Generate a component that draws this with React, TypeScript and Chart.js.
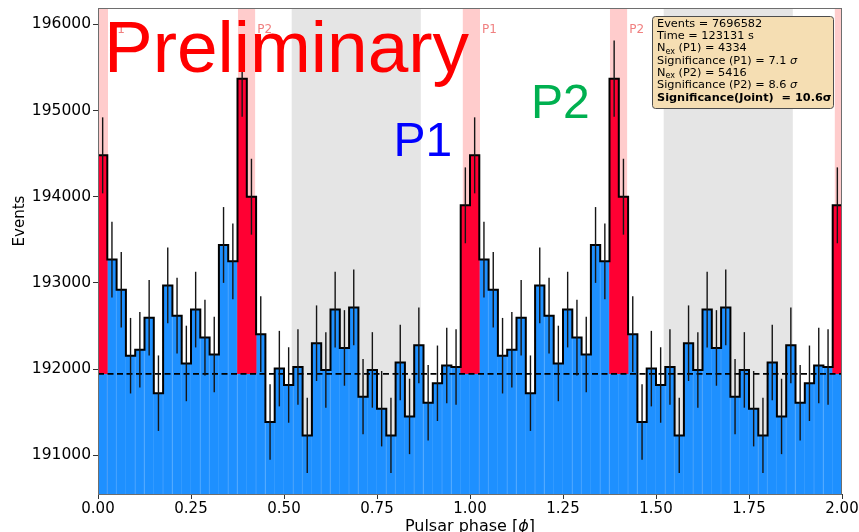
import React, { useEffect, useRef } from "react";
import { Chart, registerables } from "chart.js";

Chart.register(...registerables);

// ---------------- data ----------------
const BIN_WIDTH = 0.025;
// counts per phase bin for one rotation (phase 0 .. 1), shown twice (0 .. 2)
const countsOnePeriod = [
  194480, 193270, 192920, 192155, 192225, 192595, 191720, 192970, 192620, 192065,
  192690, 192365, 192170, 193440, 193250, 195370, 194000, 192405, 191385, 192005,
  191815, 192025, 191230, 192300, 191990, 192690, 192245, 192715, 191680, 191990,
  191540, 191230, 192075, 191450, 192275, 191610, 191835, 192040, 192025, 193900,
];
const counts = [...countsOnePeriod, ...countsOnePeriod];
// bins that belong to the on-pulse windows (P1, P2), one period
const onPulseBinsOnePeriod = [0, 15, 16, 39];
const onPulseBins = [
  ...onPulseBinsOnePeriod,
  ...onPulseBinsOnePeriod.map((b) => b + countsOnePeriod.length),
];
const backgroundLevel = 191945;

const p1Windows = [
  [-0.02, 0.027],
  [0.98, 1.027],
  [1.98, 2.027],
];
const p2Windows = [
  [0.376, 0.423],
  [1.376, 1.423],
];
const offPulseWindows = [
  [0.52, 0.868],
  [1.52, 1.868],
];

const xTickValues = [0, 0.25, 0.5, 0.75, 1.0, 1.25, 1.5, 1.75, 2.0];
const yTickValues = [191000, 192000, 193000, 194000, 195000, 196000];
const Y_MIN = 190550;
const Y_MAX = 196190;
const X_MIN = 0;
const X_MAX = 2;

const xTitle = ["Pulsar phase [", "ϕ", "]"];
const yTitle = "Events";
const statsLines: { t: string; sub?: boolean; it?: boolean; bold?: boolean }[][] = [
  [{ t: "Events = 7696582" }],
  [{ t: "Time = 123131 s" }],
  [{ t: "N" }, { t: "ex", sub: true }, { t: " (P1) = 4334" }],
  [{ t: "Significance (P1) = 7.1 " }, { t: "σ", it: true }],
  [{ t: "N" }, { t: "ex", sub: true }, { t: " (P2) = 5416" }],
  [{ t: "Significance (P2) = 8.6 " }, { t: "σ", it: true }],
  [{ t: "Significance(Joint)  = 10.6σ", bold: true }],
];

// ---------------- derived for drawing ----------------
const binCenter = (i: number) => (i + 0.5) * BIN_WIDTH;
const binLeft = (i: number) => i * BIN_WIDTH;
const errors = counts.map((c) => Math.sqrt(c));

const DV = '"DejaVu Sans"';

function spanDataset(win: number[], color: string) {
  const a = Math.max(win[0], X_MIN);
  const b = Math.min(win[1], X_MAX);
  return {
    type: "line" as const,
    data: [
      { x: a, y: Y_MAX },
      { x: b, y: Y_MAX },
    ],
    fill: "start",
    backgroundColor: color,
    borderColor: "rgba(0,0,0,0)",
    borderWidth: 0,
    pointRadius: 0,
    order: 20,
  };
}

const textPlugin = {
  id: "phaseTexts",
  afterDatasetsDraw(chart: any) {
    const { ctx, chartArea, scales } = chart;
    const { left, top, right, bottom } = chartArea;
    const xs = scales.x;
    ctx.save();

    // spines
    ctx.strokeStyle = "#6e6e6e";
    ctx.lineWidth = 1;
    ctx.strokeRect(left + 0.5, top + 0.5, right - left - 1, bottom - top);

    // small window labels
    ctx.font = `12px ${DV}`;
    ctx.fillStyle = "#f08080";
    ctx.textBaseline = "alphabetic";
    ctx.textAlign = "left";
    const lbl = (wins: number[][], name: string) => {
      wins.forEach((w) => {
        const px = xs.getPixelForValue(w[1]) + 2;
        if (px < right - 5) ctx.fillText(name, px, top + 25);
      });
    };
    lbl(p1Windows, "P1");
    lbl(p2Windows, "P2");

    // big texts
    ctx.font = `73px "Liberation Sans"`;
    ctx.fillStyle = "#ff0000";
    ctx.fillText("Preliminary", left + 6, top + 64);
    ctx.font = `48px "Liberation Sans"`;
    ctx.fillStyle = "#0000ff";
    ctx.fillText("P1", left + 295.5, top + 148);
    ctx.fillStyle = "#00b050";
    ctx.fillText("P2", left + 433, top + 110);

    // stats box
    const bx = 652.5, by = 16.5, bw = 181, bh = 92;
    ctx.beginPath();
    (ctx as any).roundRect(bx, by, bw, bh, 3);
    ctx.fillStyle = "#f5deb3";
    ctx.fill();
    ctx.strokeStyle = "#4d4d4d";
    ctx.lineWidth = 1;
    ctx.stroke();
    ctx.fillStyle = "#000";
    statsLines.forEach((segs, li) => {
      let cx = 657;
      const baseY = 26.7 + li * 12.3;
      segs.forEach((s) => {
        let font = `11.3px ${DV}`;
        let yy = baseY;
        if (s.sub) {
          font = `8px ${DV}`;
          yy = baseY + 2.5;
        }
        if (s.it) font = `oblique 11.3px ${DV}`;
        if (s.bold) font = `bold 11.3px ${DV}`;
        ctx.font = font;
        ctx.fillText(s.t, cx, yy);
        cx += ctx.measureText(s.t).width;
      });
    });

    // axis titles
    ctx.fillStyle = "#000";
    ctx.font = `15px ${DV}`;
    ctx.save();
    ctx.translate(24, 221);
    ctx.rotate(-Math.PI / 2);
    ctx.textAlign = "center";
    ctx.fillText(yTitle, 0, 0);
    ctx.restore();

    ctx.textAlign = "left";
    const fonts = [`16px ${DV}`, `oblique 16px ${DV}`, `16px ${DV}`];
    let total = 0;
    xTitle.forEach((t, i) => {
      ctx.font = fonts[i];
      total += ctx.measureText(t).width;
    });
    let tx = (left + right) / 2 - total / 2;
    xTitle.forEach((t, i) => {
      ctx.font = fonts[i];
      ctx.fillText(t, tx, 530.7);
      tx += ctx.measureText(t).width;
    });

    ctx.restore();
  },
};

export default function App() {
  const ref = useRef<HTMLCanvasElement | null>(null);

  useEffect(() => {
    document.body.style.margin = "0";
    if (!ref.current) return;

    const blueBars = counts.map((c, i) => ({
      x: binCenter(i),
      y: [Y_MIN, onPulseBins.includes(i) ? Math.min(c, backgroundLevel) : c],
    }));
    const redBars = onPulseBins.map((i) => ({
      x: binCenter(i),
      y: [backgroundLevel, counts[i]],
    }));
    const stepPts: { x: number; y: number }[] = [];
    counts.forEach((c, i) => {
      stepPts.push({ x: binLeft(i), y: c });
      stepPts.push({ x: binLeft(i + 1), y: c });
    });
    const errBars = counts.map((c, i) => ({
      x: binCenter(i),
      y: [c - errors[i], c + errors[i]],
    }));

    const datasets: any[] = [
      ...offPulseWindows.map((w) => spanDataset(w, "#e5e5e5")),
      ...p1Windows.map((w) => spanDataset(w, "#ffcccc")),
      ...p2Windows.map((w) => spanDataset(w, "#ffcccc")),
      {
        type: "bar",
        data: blueBars,
        backgroundColor: "#1e90ff",
        borderColor: "#3a9dff",
        borderWidth: { left: 0, right: 1, top: 0, bottom: 0 },
        borderSkipped: "start",
        barPercentage: 1,
        categoryPercentage: 1,
        grouped: false,
        order: 10,
      },
      {
        type: "bar",
        data: redBars,
        backgroundColor: "#ff0033",
        borderWidth: 0,
        barPercentage: 1,
        categoryPercentage: 1,
        grouped: false,
        order: 9,
      },
      {
        type: "line",
        data: stepPts,
        borderColor: "#000",
        borderWidth: 2,
        pointRadius: 0,
        tension: 0,
        fill: false,
        borderJoinStyle: "miter",
        order: 8,
      },
      {
        type: "line",
        data: [
          { x: X_MIN, y: backgroundLevel },
          { x: X_MAX, y: backgroundLevel },
        ],
        borderColor: "#000",
        borderWidth: 1.7,
        borderDash: [6, 3.5],
        pointRadius: 0,
        fill: false,
        order: 7,
      },
      {
        type: "bar",
        data: errBars,
        backgroundColor: "#151515",
        borderWidth: 0,
        barThickness: 1.4,
        inflateAmount: 0,
        grouped: false,
        order: 6,
      },
    ];

    const chart = new Chart(ref.current, {
      type: "bar",
      data: { datasets },
      options: {
        responsive: false,
        animation: false,
        devicePixelRatio: 1,
        layout: { padding: { left: 0, top: 8, right: 17, bottom: 0 } },
        plugins: { legend: { display: false }, tooltip: { enabled: false } },
        scales: {
          x: {
            type: "linear",
            min: X_MIN,
            max: X_MAX,
            offset: false,
            afterFit: (s: any) => {
              s.height = 38;
              s.paddingLeft = 0;
              s.paddingRight = 0;
            },
            afterBuildTicks: (s: any) => {
              s.ticks = xTickValues.map((v) => ({ value: v }));
            },
            ticks: {
              autoSkip: false,
              maxRotation: 0,
              padding: 1,
              color: "#000",
              font: { family: "DejaVu Sans", size: 15 },
              callback: (v: any) => Number(v).toFixed(2),
            },
            grid: {
              drawOnChartArea: false,
              drawTicks: true,
              tickLength: 5,
              tickColor: "#333",
              offset: false,
            },
            border: { display: false },
          },
          y: {
            type: "linear",
            min: Y_MIN,
            max: Y_MAX,
            afterFit: (s: any) => {
              s.width = 98;
              s.paddingTop = 0;
              s.paddingBottom = 0;
            },
            afterBuildTicks: (s: any) => {
              s.ticks = yTickValues.map((v) => ({ value: v }));
            },
            ticks: {
              autoSkip: false,
              padding: 2,
              color: "#000",
              font: { family: "DejaVu Sans", size: 15.5 },
              callback: (v: any) => String(v),
            },
            grid: {
              drawOnChartArea: false,
              drawTicks: true,
              tickLength: 5,
              tickColor: "#333",
            },
            border: { display: false },
          },
        },
      } as any,
      plugins: [textPlugin],
    });
    return () => chart.destroy();
  }, []);

  return (
    <div style={{ width: 859, height: 532 }}>
      <canvas ref={ref} width={859} height={532} style={{ display: "block" }} />
    </div>
  );
}
